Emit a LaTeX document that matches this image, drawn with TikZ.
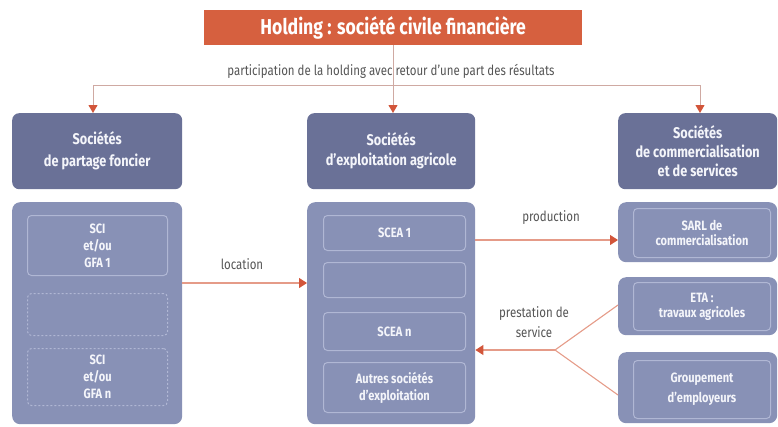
\documentclass[tikz,border=0pt]{standalone}
\usepackage{fontspec}
\setmainfont{Fira Sans}[FakeStretch=0.82]
\usetikzlibrary{arrows.meta}
\definecolor{holding}{HTML}{D6603F}
\definecolor{darkbox}{HTML}{6A7197}
\definecolor{lightbox}{HTML}{8891B6}
\definecolor{innerline}{HTML}{B0B7D4}
\definecolor{arrowline}{HTML}{E59B88}
\definecolor{tipred}{HTML}{D2553A}
\definecolor{toplines}{HTML}{CFA9A2}
\definecolor{labelgray}{HTML}{555555}
\definecolor{boxtext}{HTML}{F4F5FA}
\tikzset{
  holdbox/.style={fill=holding, text=white, font=\fontsize{21.5}{24}\selectfont\bfseries, anchor=north west, inner sep=0pt},
  headbox/.style={fill=darkbox, rounded corners=7pt, text=boxtext, align=center, anchor=north west, inner sep=0pt, font=\fontsize{15.5}{20}\selectfont\bfseries},
  bigbox/.style={fill=lightbox, rounded corners=8pt, anchor=north west, inner sep=0pt, text=boxtext, align=center},
  innerbox/.style={draw=innerline, line width=1pt, rounded corners=4pt, anchor=north west, inner sep=0pt, text=boxtext, align=center, font=\fontsize{13.5}{17}\selectfont\bfseries},
  innerdash/.style={innerbox, dash pattern=on 2pt off 2pt},
  lbl/.style={text=labelgray, font=\fontsize{14}{20}\selectfont, align=center},
  toparrow/.style={draw=toplines, line width=1pt, -{Triangle[length=8pt,width=9pt,color=tipred]}},
  topline/.style={draw=toplines, line width=1pt},
  flowarrow/.style={draw=arrowline, line width=1.1pt, -{Triangle[length=8pt,width=10pt,color=tipred]}},
  flowline/.style={draw=arrowline, line width=1.1pt},
}
\begin{document}
\begin{tikzpicture}[x=1pt,y=-1pt]
\useasboundingbox (0,0) rectangle (778,426);
% holding
\node[holdbox, minimum width=378pt, minimum height=35pt] (hold) at (204,10) {Holding : société civile financière};
% head boxes
\node[headbox, minimum width=170pt, minimum height=76pt] (hL) at (12,113) {Sociétés\\[2pt]de partage foncier};
\node[headbox, minimum width=168pt, minimum height=76pt] (hC) at (307,113) {Sociétés\\d'exploitation agricole};
\node[headbox, minimum width=159pt, minimum height=76pt] (hR) at (618,113) {Sociétés\\[-1pt]de commercialisation\\[-1pt]et de services};
% top connectors
\coordinate (jL) at (93,85);
\coordinate (jC) at (393,85);
\coordinate (jR) at (700,85);
\draw[topline] (jL) -- (jR);
\draw[toparrow] (hold.south -| jC) -- (hC.north -| jC);
\draw[toparrow] (jL) -- (hL.north -| jL);
\draw[toparrow] (jR) -- (hR.north -| jR);
\node[lbl] (part) at (391,71) {participation de la holding avec retour d'une part des résultats};
% big boxes
\node[bigbox, minimum width=170pt, minimum height=222pt] (bL) at (12,202) {};
\node[bigbox, minimum width=168pt, minimum height=222pt] (bC) at (307,202) {};
\node[bigbox, minimum width=159pt, minimum height=60pt] (bR1) at (618,202) {};
\node[bigbox, minimum width=159pt, minimum height=58pt] (bR2) at (618,277) {};
\node[bigbox, minimum width=159pt, minimum height=71pt] (bR3) at (618,352) {};
% inner left
\node[innerbox, minimum width=140pt, minimum height=60pt] (sci1) at (27,215) {SCI\\et/ou\\GFA 1};
\node[innerdash, minimum width=140pt, minimum height=42pt] (scie) at (27,293) {};
\node[innerdash, minimum width=140pt, minimum height=57pt] (scin) at (27,348) {SCI\\et/ou\\GFA n};
% inner centre
\node[innerbox, minimum width=142pt, minimum height=35pt] (scea1) at (323,215) {SCEA 1};
\node[innerbox, minimum width=142pt, minimum height=35pt] (sceae) at (323,262) {};
\node[innerbox, minimum width=142pt, minimum height=38pt] (scean) at (323,312) {SCEA n};
\node[innerbox, minimum width=142pt, minimum height=50pt] (autres) at (323,362) {Autres sociétés\\d'exploitation};
% inner right
\node[innerbox, minimum width=137pt, minimum height=49pt] (sarl) at (633,208) {SARL de\\[-2pt]commercialisation};
\node[innerbox, minimum width=137pt, minimum height=48pt] (eta) at (633,282) {ETA :\\[-2pt]travaux agricoles};
\node[innerbox, minimum width=137pt, minimum height=58pt] (grp) at (633,360) {Groupement\\[3pt]d'employeurs};
% flows
\coordinate (locy) at (0,283);
\draw[flowarrow] (bL.east |- locy) -- (bC.west |- locy);
\node[lbl] (loc) at (242,264) {location};
\coordinate (prody) at (0,240);
\draw[flowarrow] (bC.east |- prody) -- (bR1.west |- prody);
\node[lbl] (prod) at (551,218) {production};
\coordinate (junc) at (555,350);
\coordinate (etay) at (0,305);
\coordinate (grpy) at (0,395);
\draw[flowline] (bR2.west |- etay) -- (junc);
\draw[flowline] (bR3.west |- grpy) -- (junc);
\draw[flowarrow] (junc) -- (bC.east |- junc);
\node[lbl] (prest) at (534,322) {prestation de\\service};
\end{tikzpicture}
\end{document}
